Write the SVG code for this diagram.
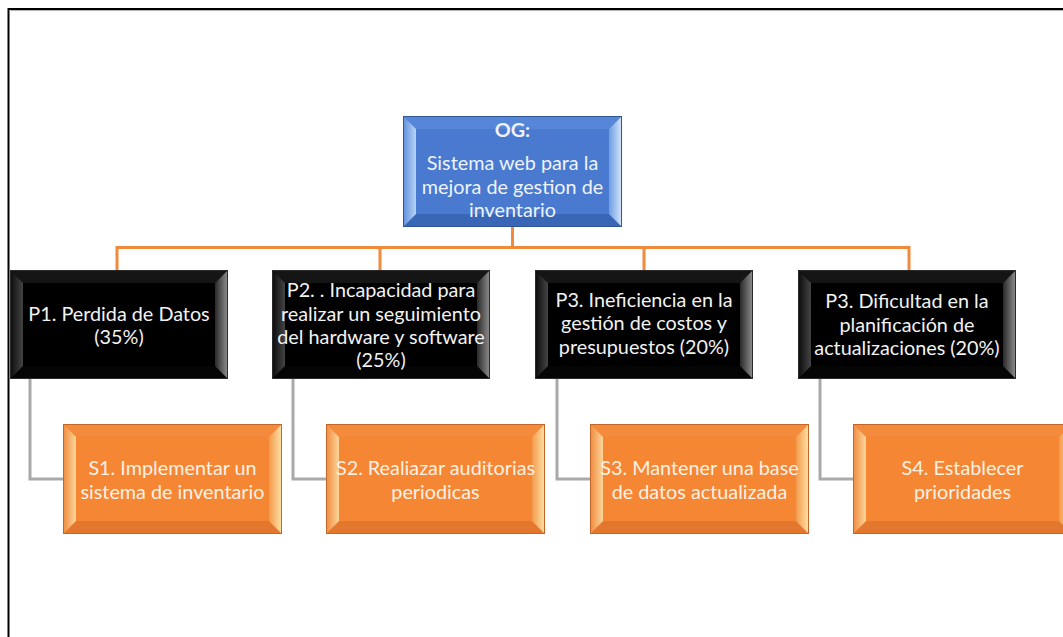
<svg xmlns="http://www.w3.org/2000/svg" xmlns:xlink="http://www.w3.org/1999/xlink" width="1063" height="637" viewBox="0 0 1063 637">
  <style>
    .txt { font-family: "Lato", "Liberation Sans", sans-serif; font-size: 19.8px; text-anchor: middle; }
    .og-txt { fill: #eef3fb; }
    .p-txt { fill: #f2f2f2; }
    .s-txt { fill: #fdf1e4; }
    .bold { font-weight: bold; }
    .tree { fill: none; stroke: #f28a3c; stroke-width: 3; }
    .link { fill: none; stroke: #a9a9a9; stroke-width: 3; }
  </style>
  <defs>
    <!-- blue bevel -->
    <linearGradient id="bL" x1="0" y1="0" x2="1" y2="0">
      <stop offset="0" stop-color="#5e8fdc"/>
      <stop offset="1" stop-color="#b9d3f5"/>
    </linearGradient>
    <linearGradient id="bR" x1="0" y1="0" x2="1" y2="0">
      <stop offset="0" stop-color="#6f9ee3"/>
      <stop offset="1" stop-color="#d8e8fb"/>
    </linearGradient>
    <!-- black bevel -->
    <linearGradient id="kL" x1="0" y1="0" x2="1" y2="0">
      <stop offset="0" stop-color="#0a0a0a"/>
      <stop offset="1" stop-color="#444444"/>
    </linearGradient>
    <linearGradient id="kR" x1="0" y1="0" x2="1" y2="0">
      <stop offset="0" stop-color="#2a2a2a"/>
      <stop offset="1" stop-color="#909090"/>
    </linearGradient>
    <!-- orange bevel -->
    <linearGradient id="oL" x1="0" y1="0" x2="1" y2="0">
      <stop offset="0" stop-color="#f08a3e"/>
      <stop offset="1" stop-color="#fcd69a"/>
    </linearGradient>
    <linearGradient id="oR" x1="0" y1="0" x2="1" y2="0">
      <stop offset="0" stop-color="#f39a4c"/>
      <stop offset="1" stop-color="#fde3a8"/>
    </linearGradient>

    <g id="bevel-blue">
      <rect x="0" y="0" width="219" height="111" fill="#4a7acf"/>
      <polygon points="0,0 219,0 206,13 13,13" fill="#5586d8"/>
      <polygon points="0,111 219,111 206,98 13,98" fill="#3a66b8"/>
      <polygon points="0,0 13,13 13,98 0,111" fill="url(#bL)"/>
      <polygon points="219,0 206,13 206,98 219,111" fill="url(#bR)"/>
      <rect x="0.5" y="0.5" width="218" height="110" fill="none" stroke="#2f5597" stroke-width="1"/>
    </g>
    <g id="bevel-black">
      <rect x="0" y="0" width="218" height="109" fill="#000"/>
      <polygon points="0,0 218,0 205,13 13,13" fill="#151515"/>
      <polygon points="0,109 218,109 205,96 13,96" fill="#050505"/>
      <polygon points="0,0 13,13 13,96 0,109" fill="url(#kL)"/>
      <polygon points="218,0 205,13 205,96 218,109" fill="url(#kR)"/>
      <rect x="0.5" y="0.5" width="217" height="108" fill="none" stroke="#2b2b2b" stroke-width="1"/>
    </g>
    <g id="bevel-orange">
      <rect x="0" y="0" width="219" height="110" fill="#f58634"/>
      <polygon points="0,0 219,0 206,13 13,13" fill="#f48a3c"/>
      <polygon points="0,110 219,110 206,97 13,97" fill="#e2772d"/>
      <polygon points="0,0 13,13 13,97 0,110" fill="url(#oL)"/>
      <polygon points="219,0 206,13 206,97 219,110" fill="url(#oR)"/>
      <rect x="0.5" y="0.5" width="218" height="109" fill="none" stroke="#c2662a" stroke-width="1"/>
    </g>
  </defs>

  <rect x="0" y="0" width="1063" height="637" fill="#ffffff"/>

  <!-- page frame -->
  <rect x="8.5" y="9" width="1100" height="700" fill="none" stroke="#000" stroke-width="2"/>
  <path d="M10.5 10.6 H1063" stroke="#b0b0b0" stroke-width="1" fill="none"/>

  <!-- connectors -->
  <g id="connectors">
    <path class="tree" d="M512.5 227 V247.5 M117 270 V247.5 H909 V270 M380 247.5 V270 M644 247.5 V270"/>
    <path class="link" d="M30 379 V479 H63"/>
    <path class="link" d="M293 379 V479 H326"/>
    <path class="link" d="M557 379 V479 H590"/>
    <path class="link" d="M820 379 V479 H853"/>
  </g>

  <!-- goal -->
  <g id="og" transform="translate(403,116)">
    <use xlink:href="#bevel-blue"/>
    <text class="txt og-txt bold" x="109.5" y="21">OG:</text>
    <text class="txt og-txt" x="109.5" y="54">Sistema web para la</text>
    <text class="txt og-txt" x="109.5" y="77.5">mejora de gestion de</text>
    <text class="txt og-txt" x="109.5" y="101">inventario</text>
  </g>

  <!-- problems -->
  <g id="p1" transform="translate(10,270)">
    <use xlink:href="#bevel-black"/>
    <text class="txt p-txt" x="109" y="51">P1. Perdida de Datos</text>
    <text class="txt p-txt" x="109" y="74">(35%)</text>
  </g>
  <g id="p2" transform="translate(272,270)">
    <use xlink:href="#bevel-black"/>
    <text class="txt p-txt" x="109" y="27">P2. . Incapacidad para</text>
    <text class="txt p-txt" x="109" y="50.5">realizar un seguimiento</text>
    <text class="txt p-txt" x="109" y="73.5">del hardware y software</text>
    <text class="txt p-txt" x="109" y="97">(25%)</text>
  </g>
  <g id="p3" transform="translate(535,270)">
    <use xlink:href="#bevel-black"/>
    <text class="txt p-txt" x="109" y="37">P3. Ineficiencia en la</text>
    <text class="txt p-txt" x="109" y="60">gestión de costos y</text>
    <text class="txt p-txt" x="109" y="83.5">presupuestos (20%)</text>
  </g>
  <g id="p4" transform="translate(798,270)">
    <use xlink:href="#bevel-black"/>
    <text class="txt p-txt" x="109" y="38">P3. Dificultad en la</text>
    <text class="txt p-txt" x="109" y="61.5">planificación de</text>
    <text class="txt p-txt" x="109" y="85">actualizaciones (20%)</text>
  </g>

  <!-- solutions -->
  <g id="s1" transform="translate(63,424)">
    <use xlink:href="#bevel-orange"/>
    <text class="txt s-txt" x="109.5" y="51">S1. Implementar un</text>
    <text class="txt s-txt" x="109.5" y="74.5">sistema de inventario</text>
  </g>
  <g id="s2" transform="translate(326,424)">
    <use xlink:href="#bevel-orange"/>
    <text class="txt s-txt" x="109.5" y="51">S2. Realiazar auditorias</text>
    <text class="txt s-txt" x="109.5" y="74.5">periodicas</text>
  </g>
  <g id="s3" transform="translate(590,424)">
    <use xlink:href="#bevel-orange"/>
    <text class="txt s-txt" x="109.5" y="51">S3. Mantener una base</text>
    <text class="txt s-txt" x="109.5" y="74.5">de datos actualizada</text>
  </g>
  <g id="s4" transform="translate(853,424)">
    <use xlink:href="#bevel-orange"/>
    <text class="txt s-txt" x="109.5" y="51">S4. Establecer</text>
    <text class="txt s-txt" x="109.5" y="74.5">prioridades</text>
  </g>
</svg>
